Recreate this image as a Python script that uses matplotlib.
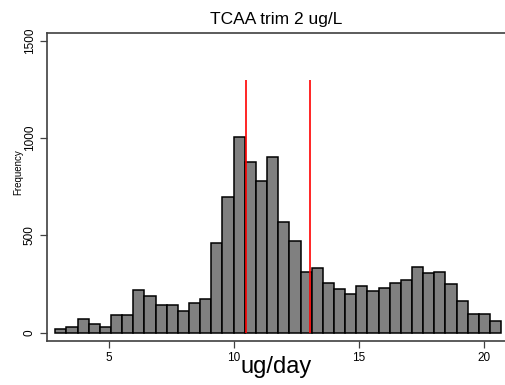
import numpy as np
import matplotlib.pyplot as plt

plt.switch_backend('Agg')
plt.rcParams['font.family'] = ['Liberation Sans', 'DejaVu Sans']

# Histogram of daily intake (40 bins)
counts = [17, 31, 70, 43, 28, 91, 91, 219, 190, 141,
          144, 110, 151, 171, 459, 699, 1004, 877, 780, 903,
          567, 470, 312, 334, 254, 223, 201, 238, 214, 231,
          254, 272, 336, 305, 310, 252, 165, 95, 98, 62]
bin_start = 2.85
bin_width = 0.446
ref_lines = [10.48, 13.05]
ref_top = 1300
x_ticks = [5, 10, 15, 20]
y_ticks = [0, 500, 1000, 1500]

edges = bin_start + bin_width * np.arange(len(counts))

fig = plt.figure(figsize=(5.06, 3.85), dpi=100)
ax = fig.add_axes([0.0923, 0.115, 0.9077, 0.80])

ax.bar(edges, counts, width=bin_width, align='edge', color='#808080',
       edgecolor='black', linewidth=1.1)
ax.vlines(ref_lines, 0, ref_top, color='#ff0000', linewidth=1.2, zorder=3)

ax.set_xlim(2.51, 20.88)
ax.set_ylim(-41, 1542)
ax.set_xticks(x_ticks)
ax.set_yticks(y_ticks)
ax.set_yticklabels([str(v) for v in y_ticks], rotation=90, va='center')

ax.tick_params(axis='x', length=5, width=0.9, color='#404040', labelsize=8.5, pad=3)
ax.tick_params(axis='y', length=5, width=0.9, color='#404040', labelsize=8.5, pad=3)

for s in ('left', 'top', 'bottom'):
    ax.spines[s].set_color('#404040')
    ax.spines[s].set_linewidth(1.2)
ax.spines['right'].set_visible(False)

ax.set_title('TCAA trim 2 ug/L', fontsize=12.5, pad=6)
ax.set_xlabel('ug/day', fontsize=17, labelpad=-6)
ax.set_ylabel('Frequency', fontsize=7)
ax.yaxis.set_label_coords(-0.052, 0.546)

fig.savefig('out.png', dpi=100)
